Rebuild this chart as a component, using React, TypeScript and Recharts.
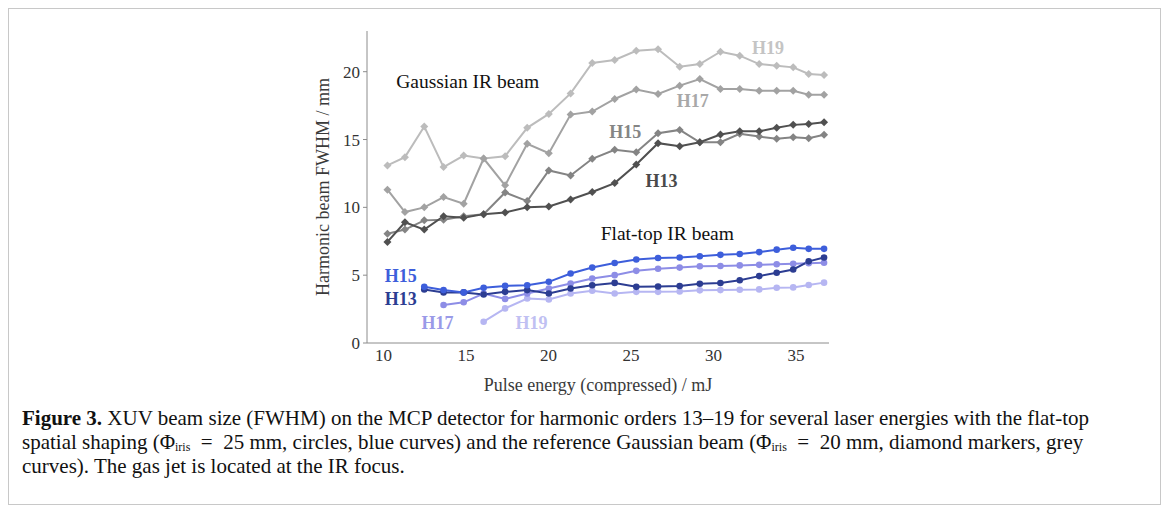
import React from "react";
import { LineChart, Line, XAxis, YAxis, ReferenceDot, Label } from "recharts";

// pulse energies (mJ) shared by all curves
const energy = [
  10.24, 11.3, 12.47, 13.64, 14.86, 16.07, 17.37, 18.71, 20.02, 21.34, 22.65, 24.01,
  25.32, 26.64, 27.95, 29.17, 30.42, 31.59, 32.77, 33.83, 34.83, 35.77, 36.7,
];

// Gaussian IR beam (diamonds, grey)
const gaussH13 = [
  7.45, 8.9, 8.36, 9.34, 9.24, 9.5, 9.62, 10.0, 10.07, 10.58, 11.13, 11.79,
  13.16, 14.73, 14.5, 14.8, 15.37, 15.61, 15.61, 15.86, 16.08, 16.15, 16.27,
];
const gaussH15 = [
  8.06, 8.36, 9.04, 9.09, 9.34, 9.49, 11.1, 10.46, 12.72, 12.35, 13.58, 14.24,
  14.07, 15.46, 15.71, 14.8, 14.8, 15.42, 15.22, 15.05, 15.17, 15.1, 15.35,
];
const gaussH17 = [
  11.3, 9.65, 10.0, 10.76, 10.27, 13.6, 11.62, 14.68, 13.99, 16.84, 17.06, 17.99,
  18.68, 18.36, 18.97, 19.46, 18.73, 18.73, 18.6, 18.6, 18.6, 18.3, 18.3,
];
const gaussH19 = [
  13.09, 13.7, 15.96, 12.97, 13.82, 13.6, 13.77, 15.86, 16.89, 18.4, 20.64, 20.86,
  21.54, 21.66, 20.37, 20.56, 21.47, 21.18, 20.56, 20.44, 20.32, 19.83, 19.76,
];

// Flat-top IR beam (circles, blue)
const flatH13 = [
  null, null, 3.95, 3.73, 3.73, 3.58, 3.77, 3.9, 3.65, 4.02, 4.26, 4.43,
  4.14, 4.17, 4.2, 4.37, 4.42, 4.63, 4.93, 5.18, 5.42, 6.02, 6.3,
];
const flatH15 = [
  null, null, 4.14, 3.9, 3.73, 4.07, 4.21, 4.26, 4.51, 5.12, 5.56, 5.9,
  6.15, 6.27, 6.3, 6.4, 6.5, 6.56, 6.7, 6.88, 7.02, 6.94, 6.94,
];
const flatH17 = [
  null, null, null, 2.8, 3.0, 3.65, 3.25, 3.65, 4.02, 4.39, 4.76, 5.0,
  5.32, 5.47, 5.56, 5.66, 5.68, 5.72, 5.76, 5.8, 5.84, 5.88, 5.92,
];
const flatH19 = [
  null, null, null, null, null, 1.57, 2.55, 3.28, 3.21, 3.65, 3.85, 3.65,
  3.77, 3.77, 3.8, 3.88, 3.9, 3.92, 3.95, 4.07, 4.1, 4.28, 4.45,
];

const xTicks = [10, 15, 20, 25, 30, 35];
const yTicks = [0, 5, 10, 15, 20];

const FONT = "'Liberation Serif', 'Times New Roman', serif";

const toPoints = (vals: (number | null)[]) =>
  energy
    .map((e, i) => ({ e, v: vals[i] }))
    .filter((p) => p.v !== null);

function diamondDot(color: string) {
  return (p: any) => {
    const { cx, cy, index } = p;
    if (cx == null || cy == null) return <g key={index} />;
    const s = 4;
    return (
      <path
        key={index}
        d={`M${cx},${cy - s}L${cx + s},${cy}L${cx},${cy + s}L${cx - s},${cy}Z`}
        fill={color}
      />
    );
  };
}

const gaussSeries = [
  { name: "G-H19", data: gaussH19, color: "#bcbcbc" },
  { name: "G-H17", data: gaussH17, color: "#a2a2a2" },
  { name: "G-H15", data: gaussH15, color: "#848484" },
  { name: "G-H13", data: gaussH13, color: "#505050" },
];

const flatSeries = [
  { name: "F-H19", data: flatH19, color: "#b6b6f2" },
  { name: "F-H17", data: flatH17, color: "#8d8de6" },
  { name: "F-H13", data: flatH13, color: "#2c3d92" },
  { name: "F-H15", data: flatH15, color: "#3d5edb" },
];

const labels = [
  { x: 15.1, y: 19.3, text: "Gaussian IR beam", color: "#111", bold: false, size: 19.5 },
  { x: 33.3, y: 21.8, text: "H19", color: "#c4c4c4", bold: true, size: 18 },
  { x: 28.75, y: 17.9, text: "H17", color: "#a8a8a8", bold: true, size: 18 },
  { x: 24.65, y: 15.55, text: "H15", color: "#858585", bold: true, size: 18 },
  { x: 26.85, y: 12.0, text: "H13", color: "#4a4a4a", bold: true, size: 18 },
  { x: 27.2, y: 8.1, text: "Flat-top IR beam", color: "#111", bold: false, size: 19.5 },
  { x: 11.05, y: 5.0, text: "H15", color: "#3d5edb", bold: true, size: 18 },
  { x: 11.05, y: 3.28, text: "H13", color: "#2c3d92", bold: true, size: 18 },
  { x: 13.28, y: 1.5, text: "H17", color: "#9a9ae8", bold: true, size: 18 },
  { x: 18.97, y: 1.5, text: "H19", color: "#c0c0f2", bold: true, size: 18 },
];

const subStyle: React.CSSProperties = { fontSize: 12, lineHeight: 0, verticalAlign: "-0.2em" };

export default function App() {
  return (
    <div
      style={{
        position: "relative",
        width: 1153,
        height: 497,
        boxSizing: "border-box",
        border: "1px solid #c8c8c8",
        fontFamily: FONT,
      }}
    >
      <div style={{ position: "absolute", left: 0, top: 0 }}>
        <LineChart
          width={900}
          height={400}
          margin={{ top: 22, right: 80, bottom: 18, left: 308 }}
        >
          <XAxis
            xAxisId="top"
            orientation="top"
            type="number"
            dataKey="e"
            domain={[9, 37]}
            ticks={xTicks}
            height={0}
            mirror
            tickFormatter={() => ""}
            axisLine={{ stroke: "#d2d2d2" }}
            tickLine={{ stroke: "#666" }}
            tickSize={4}
          />
          <XAxis
            xAxisId="btm"
            type="number"
            dataKey="e"
            domain={[9, 37]}
            ticks={xTicks}
            height={0}
            mirror
            tickFormatter={() => ""}
            axisLine={false}
            tickLine={{ stroke: "#666" }}
            tickSize={5}
          />
          <XAxis
            type="number"
            dataKey="e"
            domain={[9, 37]}
            ticks={xTicks}
            height={48}
            tickLine={false}
            tickSize={4}
            tickMargin={2}
            axisLine={{ stroke: "#8c8c8c" }}
            tick={{ fill: "#333", fontSize: 17, fontFamily: FONT }}
          >
            <Label
              value="Pulse energy (compressed) / mJ"
              position="insideBottom"
              offset={0}
              fill="#3a3a3a"
              fontSize={18}
              fontFamily={FONT}
            />
          </XAxis>
          <YAxis
            type="number"
            domain={[0, 23]}
            ticks={yTicks}
            width={50}
            tickSize={4}
            tickMargin={3}
            axisLine={{ stroke: "#8c8c8c" }}
            tickLine={{ stroke: "#8c8c8c" }}
            tick={{ fill: "#333", fontSize: 17, fontFamily: FONT }}
          >
            <Label
              value="Harmonic beam FWHM / mm"
              position="insideLeft"
              angle={-90}
              offset={6}
              fill="#3a3a3a"
              fontSize={18}
              fontFamily={FONT}
              style={{ textAnchor: "middle" }}
            />
          </YAxis>

          {gaussSeries.map((s) => (
            <Line
              key={s.name}
              data={toPoints(s.data)}
              dataKey="v"
              stroke={s.color}
              strokeWidth={2}
              dot={diamondDot(s.color)}
              activeDot={false}
              isAnimationActive={false}
            />
          ))}
          {flatSeries.map((s) => (
            <Line
              key={s.name}
              data={toPoints(s.data)}
              dataKey="v"
              stroke={s.color}
              strokeWidth={2}
              dot={{ r: 3.3, fill: s.color, stroke: "none" }}
              activeDot={false}
              isAnimationActive={false}
            />
          ))}

          {labels.map((l, i) => (
            <ReferenceDot
              key={i}
              x={l.x}
              y={l.y}
              r={0}
              fill="none"
              stroke="none"
            >
              <Label
                value={l.text}
                position="center"
                fill={l.color}
                fontSize={l.size}
                fontWeight={l.bold ? 700 : 400}
                fontFamily={FONT}
              />
            </ReferenceDot>
          ))}
        </LineChart>
      </div>

      <div
        style={{
          position: "absolute",
          left: 13,
          top: 397,
          fontSize: 21,
          lineHeight: "24px",
          color: "#111",
          whiteSpace: "nowrap",
        }}
      >
        <div>
          <b>Figure 3.</b> XUV beam size (FWHM) on the MCP detector for harmonic orders 13–19
          for several laser energies with the flat-top
        </div>
        <div>
          spatial shaping (Φ<sub style={subStyle}>iris</sub>{"\u2002=\u2002"}25 mm, circles, blue
          curves) and the reference Gaussian beam (Φ<sub style={subStyle}>iris</sub>
          {"\u2002=\u2002"}20 mm, diamond markers, grey
        </div>
        <div>curves). The gas jet is located at the IR focus.</div>
      </div>
    </div>
  );
}
